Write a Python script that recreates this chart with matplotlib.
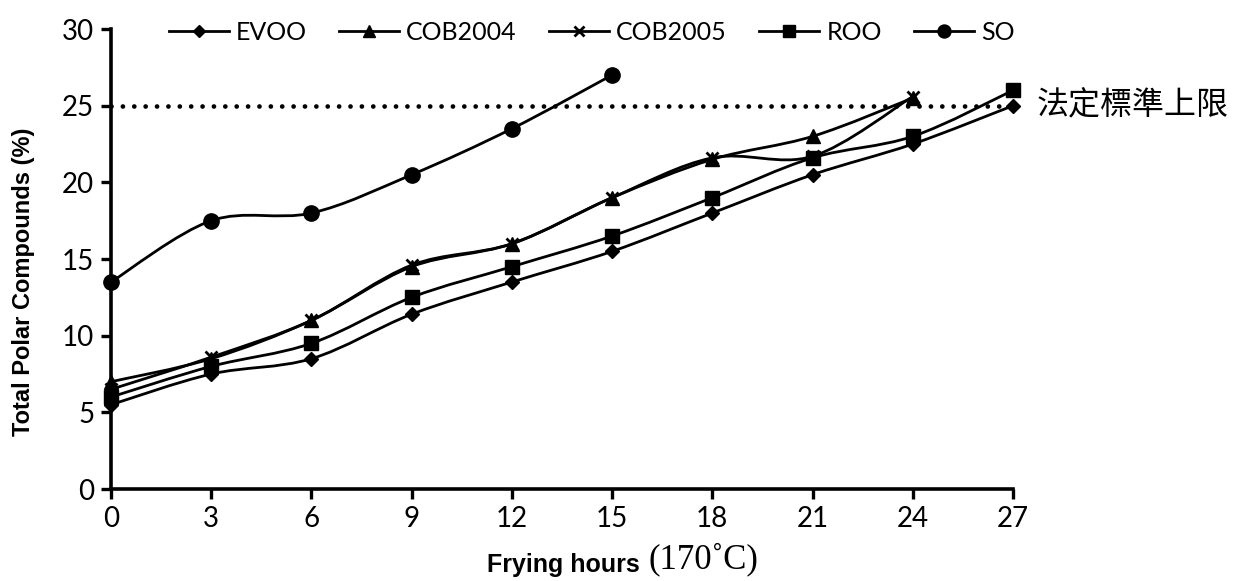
import matplotlib.pyplot as plt
from matplotlib.path import Path
from matplotlib.patches import PathPatch
import numpy as np

hours = [0, 3, 6, 9, 12, 15, 18, 21, 24, 27]
evoo = [5.5, 7.5, 8.5, 11.4, 13.5, 15.5, 18.0, 20.5, 22.5, 25.0]
cob2004 = [7.0, 8.5, 11.0, 14.5, 16.0, 19.0, 21.5, 23.0, 25.5]
cob2005 = [6.5, 8.6, 11.0, 14.6, 16.0, 19.0, 21.6, 21.7, 25.6]
roo = [6.0, 8.0, 9.5, 12.5, 14.5, 16.5, 19.0, 21.6, 23.0, 26.0]
so = [13.5, 17.5, 18.0, 20.5, 23.5, 27.0]
limit = 25
limit_label = '法定標準上限'

series = [
    ('EVOO', evoo, 'D', 7),
    ('COB2004', cob2004, '^', 10),
    ('COB2005', cob2005, 'x', 9),
    ('ROO', roo, 's', 10),
    ('SO', so, 'o', 11),
]


def smooth_path(x, y, t=1 / 6):
    # excel style smoothed line: cubic bezier segments through the points
    x = np.asarray(x, float)
    y = np.asarray(y, float)
    verts = [(x[0], y[0])]
    codes = [Path.MOVETO]
    n = len(x)
    for i in range(n - 1):
        x0, y0 = (x[i - 1], y[i - 1]) if i > 0 else (x[i], y[i])
        x3, y3 = (x[i + 2], y[i + 2]) if i + 2 < n else (x[i + 1], y[i + 1])
        c1 = (x[i] + (x[i + 1] - x0) * t, y[i] + (y[i + 1] - y0) * t)
        c2 = (x[i + 1] - (x3 - x[i]) * t, y[i + 1] - (y3 - y[i]) * t)
        verts += [c1, c2, (x[i + 1], y[i + 1])]
        codes += [Path.CURVE4] * 3
    return Path(verts, codes)


fig = plt.figure(figsize=(12.4, 5.81), dpi=100)
ax = fig.add_axes([0.0895, 0.1583, 0.7274, 0.7917])

for name, vals, mk, ms in series:
    xs = hours[:len(vals)]
    mew = 2 if mk == 'x' else 1
    ax.add_patch(PathPatch(smooth_path(xs, vals), fill=False, lw=2,
                           edgecolor='black', zorder=3))
    ax.plot(xs, vals, linestyle='none', marker=mk, markersize=ms,
            color='black', markeredgewidth=mew, zorder=4, clip_on=False)
    # proxy for legend
    ax.plot([], [], color='black', lw=2, marker=mk, markersize=ms * 0.85,
            markeredgewidth=mew, label=name)

ax.plot([0, 27.1], [limit, limit], color='black', lw=3.4,
        linestyle=(0, (0.01, 2.4)), dash_capstyle='round', clip_on=False, zorder=2)
ax.text(27.7, limit, limit_label, fontsize=23, va='center', ha='left',
        family=['Noto Sans CJK TC', 'DejaVu Sans'])

ax.set_xlim(0, 27)
ax.set_ylim(0, 30)
ax.set_xticks(hours)
ax.set_yticks(range(0, 31, 5))
for s in ['top', 'right']:
    ax.spines[s].set_visible(False)
for s in ['left', 'bottom']:
    ax.spines[s].set_linewidth(2.6)
ax.tick_params(direction='out', length=7, width=2.4, labelsize=20, pad=5)
for lab in ax.get_xticklabels() + ax.get_yticklabels():
    lab.set_family('Lato')

fig.text(0.019, 0.515, 'Total Polar Compounds (%)', fontsize=17, fontweight='bold',
         family='Liberation Sans', rotation=90, ha='center', va='center')

fig.text(0.393, 0.016, 'Frying hours', fontsize=18, fontweight='bold',
         family='Liberation Sans', ha='left', va='baseline')
fig.text(0.523, 0.022, '(170˚C)', fontsize=25, family=['Liberation Serif', 'DejaVu Serif'],
         ha='left', va='baseline')

ax.legend(loc='center', bbox_to_anchor=(0.533, 0.9935), ncol=5, frameon=False,
          prop={'family': 'Lato', 'size': 18}, handlelength=2.4,
          columnspacing=1.3, handletextpad=0.28)

fig.savefig('out.png', dpi=100)
